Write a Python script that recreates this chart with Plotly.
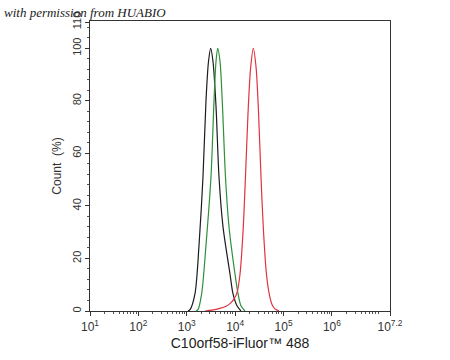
import plotly.graph_objects as go

# Intensity given as log10 exponent; Count in percent of mode
black_log = [3.025, 3.067, 3.170, 3.253, 3.335, 3.397, 3.449, 3.494, 3.542, 3.604, 3.666, 3.749, 3.894, 3.955, 4.038, 4.120]
black_pct = [0, 0.5, 6.6, 25, 51, 80, 95, 100, 95, 78, 51, 32, 14, 6.6, 2, 0]

green_log = [3.191, 3.232, 3.308, 3.397, 3.500, 3.563, 3.604, 3.639, 3.687, 3.738, 3.800, 3.873, 3.997, 4.059, 4.120, 4.203]
green_pct = [0, 0.5, 6.6, 25, 51, 80, 95, 100, 95, 78, 51, 32, 14, 6.6, 2, 0]

red_log = [3.377, 3.521, 3.687, 3.810, 3.893, 3.976, 4.038, 4.100, 4.162, 4.213, 4.265, 4.317, 4.375,
           4.431, 4.482, 4.534, 4.581, 4.647, 4.709, 4.761, 4.823, 4.906]
red_pct = [0, 0.3, 1.0, 1.8, 2.8, 4.5, 7, 14, 30, 51, 75, 92, 100, 93, 76, 51, 32, 14, 6, 2.5, 0.8, 0]

x_tick_exp = [1, 2, 3, 4, 5, 6, 7.2]
x_tick_text = ["10<sup>1</sup>", "10<sup>2</sup>", "10<sup>3</sup>", "10<sup>4</sup>",
               "10<sup>5</sup>", "10<sup>6</sup>", "10<sup>7.2</sup>"]
y_ticks = [0, 20, 40, 60, 80, 100, 110]

fig = go.Figure()
for lg, pct, col in [(black_log, black_pct, "#1c1c1c"),
                     (green_log, green_pct, "#2f8f3a"),
                     (red_log, red_pct, "#e0333f")]:
    fig.add_trace(go.Scatter(
        x=[10 ** v for v in lg], y=pct, mode="lines",
        line=dict(color=col, width=1.2, shape="spline", smoothing=0.8),
        showlegend=False, hoverinfo="skip"))

minor_x = [m * 10 ** d for d in range(1, 7) for m in range(2, 10) if m * 10 ** d < 10 ** 7.2]

fig.update_xaxes(
    type="log", range=[1, 7.2],
    tickmode="array", tickvals=[10 ** e for e in x_tick_exp], ticktext=x_tick_text,
    ticks="outside", ticklen=4, tickcolor="#333", tickwidth=1,
    minor=dict(tickmode="array", tickvals=minor_x, ticks="outside", ticklen=2,
               tickcolor="#555", showgrid=False),
    showline=True, linecolor="#333", linewidth=1, mirror=True,
    showgrid=False, zeroline=False,
    tickfont=dict(family="Liberation Sans, Arial", size=12, color="#333"),
    ticklabelstandoff=1,
    title=dict(text="C10orf58-iFluor™ 488", standoff=4,
               font=dict(family="Liberation Sans, Arial", size=14, color="#222")),
)
fig.update_yaxes(
    range=[0, 110.4],
    tickmode="array", tickvals=y_ticks, ticktext=[str(v) for v in y_ticks],
    tickangle=-90,
    ticks="outside", ticklen=4, tickcolor="#333", tickwidth=1,
    minor=dict(dtick=4, ticks="outside", ticklen=2, tickcolor="#555", showgrid=False),
    showline=True, linecolor="#333", linewidth=1, mirror=True,
    showgrid=False, zeroline=False,
    tickfont=dict(family="Liberation Sans, Arial", size=11, color="#333"),
    title=dict(text="Count  (%)", standoff=6,
               font=dict(family="Liberation Sans, Arial", size=12, color="#333")),
)

fig.add_annotation(
    text="<i>with permission from HUABIO</i>", xref="paper", yref="paper",
    x=-0.293, y=0.995, xanchor="left", yanchor="bottom", showarrow=False,
    font=dict(family="Liberation Serif, serif", size=13, color="#222"))

fig.update_layout(
    width=450, height=360,
    margin=dict(l=90, r=60, t=18, b=42),
    paper_bgcolor="white", plot_bgcolor="white",
)

fig.write_html("out.html", config={"displayModeBar": False},
               post_script="document.body.style.margin='0px';")
